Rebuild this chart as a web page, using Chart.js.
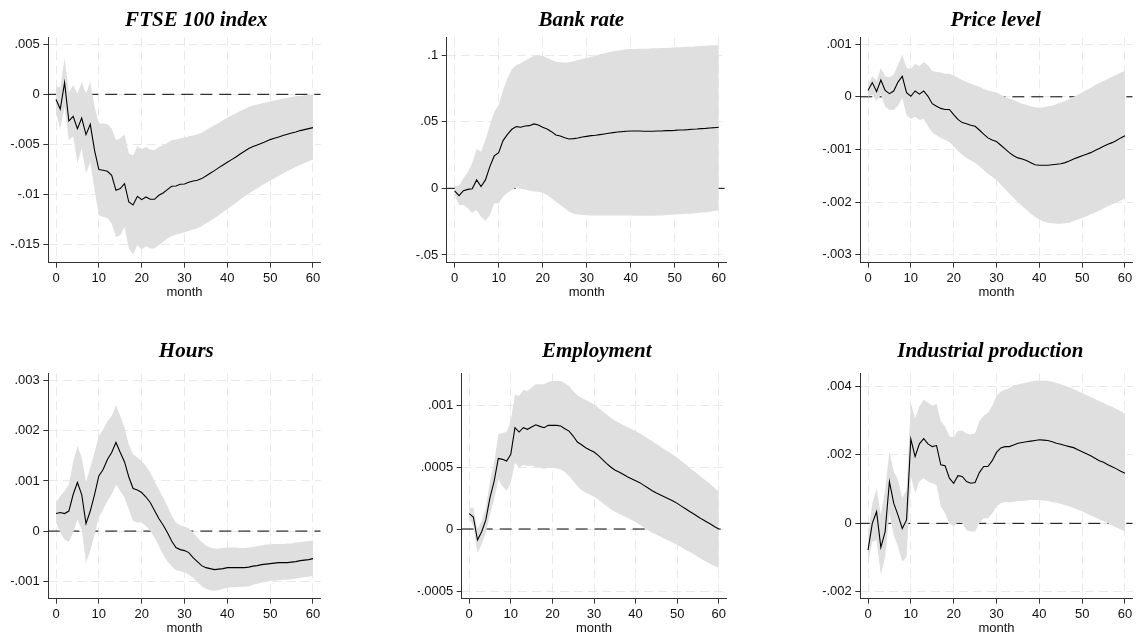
<!DOCTYPE html>
<html>
<head>
<meta charset="utf-8">
<script src="https://cdn.jsdelivr.net/npm/chart.js@4.4.1/dist/chart.umd.min.js"></script>
<style>
  html, body { margin: 0; padding: 0; background: #ffffff; }
  body { width: 1137px; height: 637px; position: relative; overflow: hidden; }
  canvas { position: absolute; }
</style>
</head>
<body>
<canvas id="ftse"></canvas>
<canvas id="bank"></canvas>
<canvas id="price"></canvas>
<canvas id="hours"></canvas>
<canvas id="employment"></canvas>
<canvas id="production"></canvas>
<script>
// Horizon (months after the shock)
const months = [0,1,2,3,4,5,6,7,8,9,10,11,12,13,14,15,16,17,18,19,20,21,22,23,24,25,26,27,28,29,30,
  31,32,33,34,35,36,37,38,39,40,41,42,43,44,45,46,47,48,49,50,51,52,53,54,55,56,57,58,59,60];
const xTickValues = [0,10,20,30,40,50,60];

// FTSE 100 index: response and confidence band
const ftseIrf = [-0.00053,-0.00147,0.00117,-0.00267,-0.0022,-0.00343,-0.00237,-0.00403,-0.003,-0.0056,
  -0.00753,-0.0076,-0.0077,-0.0081,-0.0096,-0.00943,-0.00893,-0.01077,-0.01107,-0.0102,
  -0.01053,-0.01027,-0.0105,-0.0105,-0.0101,-0.00987,-0.00953,-0.0092,-0.00917,-0.009,
  -0.00897,-0.0088,-0.00867,-0.0086,-0.00843,-0.00817,-0.0079,-0.00763,-0.00733,-0.00707,
  -0.0068,-0.00653,-0.00627,-0.00597,-0.0057,-0.00543,-0.00523,-0.00507,-0.0049,-0.00473,
  -0.00453,-0.0044,-0.00427,-0.00413,-0.004,-0.00387,-0.00377,-0.00363,-0.00353,-0.00343,-0.00333];
const ftseUpper = [0.0008,0.00067,0.00357,0.00023,0.0009,0.00007,0.00123,0.00007,0.00123,-0.00127,
  -0.00293,-0.00293,-0.003,-0.00343,-0.0046,-0.00443,-0.00403,-0.00593,-0.0061,-0.0052,
  -0.00547,-0.00527,-0.00553,-0.0056,-0.00527,-0.0051,-0.00487,-0.0046,-0.00453,-0.00443,
  -0.00433,-0.0042,-0.00413,-0.00403,-0.00387,-0.0036,-0.00333,-0.0031,-0.00287,-0.0026,
  -0.00233,-0.00213,-0.0019,-0.00167,-0.00147,-0.00127,-0.00113,-0.00103,-0.00093,-0.00083,
  -0.00073,-0.00063,-0.00053,-0.00043,-0.00037,-0.00027,-0.0002,-0.00017,-0.0001,-0.00007,-0.00003];
const ftseLower = [-0.00193,-0.00343,-0.0013,-0.0046,-0.0042,-0.00687,-0.00543,-0.00793,-0.00677,-0.0096,
  -0.0121,-0.01227,-0.01237,-0.01293,-0.01427,-0.0141,-0.01327,-0.01543,-0.016,-0.0151,
  -0.01553,-0.0152,-0.01543,-0.01543,-0.0151,-0.01477,-0.01443,-0.0142,-0.01403,-0.01393,
  -0.0138,-0.01367,-0.01353,-0.0134,-0.0132,-0.01293,-0.01267,-0.0124,-0.0121,-0.01177,
  -0.01147,-0.01117,-0.01087,-0.01053,-0.01023,-0.00993,-0.00967,-0.0094,-0.00913,-0.00887,
  -0.00863,-0.0084,-0.00817,-0.00793,-0.0077,-0.00747,-0.00727,-0.00707,-0.00687,-0.0067,-0.00653];
const ftseTicks = [-0.015,-0.01,-0.005,0,0.005];
const ftseTickLabels = ["-.015","-.01","-.005","0",".005"];

// Bank rate
const bankIrf = [-0.002,-0.0055,-0.0018,-0.0008,-0.0003,0.0063,0.0013,0.0063,0.0163,0.0243,
  0.0268,0.0358,0.0405,0.0443,0.0463,0.0458,0.0468,0.047,0.0483,0.0475,
  0.0458,0.0445,0.0425,0.04,0.0393,0.038,0.037,0.0373,0.0378,0.0385,
  0.039,0.0395,0.0398,0.0403,0.0408,0.0413,0.0418,0.0423,0.0425,0.0428,
  0.043,0.043,0.043,0.0428,0.0428,0.0428,0.043,0.043,0.0433,0.0433,
  0.0435,0.0438,0.0438,0.044,0.0443,0.0445,0.0448,0.045,0.0453,0.0455,0.0458];
const bankUpper = [0.002,0.00175,0.0075,0.0125,0.01875,0.02975,0.0275,0.03625,0.0475,0.0575,
  0.0625,0.07375,0.0825,0.08925,0.0925,0.09375,0.09575,0.0975,0.09925,0.1,
  0.09925,0.098,0.09625,0.095,0.0945,0.09425,0.0945,0.09525,0.09625,0.097,
  0.09775,0.09875,0.0995,0.1005,0.10125,0.102,0.10275,0.10325,0.10375,0.10425,
  0.1045,0.1045,0.10475,0.10475,0.10475,0.105,0.105,0.10525,0.10525,0.1055,
  0.10575,0.10575,0.106,0.10625,0.10625,0.1065,0.10675,0.107,0.10725,0.10725,0.1075];
const bankLower = [-0.005,-0.0125,-0.0125,-0.015,-0.0183,-0.0163,-0.0213,-0.0243,-0.02,-0.0113,
  -0.0113,-0.0063,-0.0033,-0.0013,0.0008,0,-0.0008,-0.0018,-0.0023,-0.0025,
  -0.0033,-0.005,-0.0075,-0.01,-0.0125,-0.015,-0.0175,-0.019,-0.0197,-0.02,
  -0.0202,-0.0203,-0.0203,-0.0203,-0.0203,-0.0203,-0.0203,-0.0203,-0.0204,-0.0204,
  -0.0204,-0.0205,-0.0205,-0.0205,-0.0205,-0.0205,-0.0204,-0.0203,-0.0201,-0.0199,
  -0.0197,-0.0195,-0.0193,-0.0191,-0.0189,-0.0186,-0.0182,-0.0179,-0.0175,-0.017,-0.0165];
const bankTicks = [-0.05,0,0.05,0.1];
const bankTickLabels = ["-.05","0",".05",".1"];

// Price level
const priceIrf = [0.00012,0.00027,0.0001,0.00032,0.00012,0.00006,0.00011,0.00028,0.00039,0.00008,
  0.00001,0.00011,0.00005,0.00011,0.00001,-0.00013,-0.00018,-0.00022,-0.00024,-0.00024,
  -0.00034,-0.00043,-0.00049,-0.00051,-0.00054,-0.00056,-0.00063,-0.00071,-0.00078,-0.00082,
  -0.00085,-0.00092,-0.00099,-0.00106,-0.00112,-0.00116,-0.00118,-0.00121,-0.00125,-0.00129,
  -0.0013,-0.0013,-0.0013,-0.00129,-0.00128,-0.00127,-0.00125,-0.00122,-0.00118,-0.00115,
  -0.00112,-0.00109,-0.00106,-0.00102,-0.00098,-0.00094,-0.0009,-0.00087,-0.00083,-0.00078,-0.00074];
const priceUpper = [0.00023,0.00039,0.0003,0.00055,0.00039,0.00037,0.00042,0.00061,0.0008,0.00055,
  0.00053,0.00063,0.00058,0.00066,0.0006,0.00049,0.00047,0.00046,0.00044,0.00044,
  0.00041,0.00036,0.00032,0.00028,0.00025,0.00022,0.00019,0.00015,0.00012,0.0001,
  0.00008,0.00004,0,-0.00003,-0.00006,-0.0001,-0.00013,-0.00015,-0.00018,-0.0002,
  -0.00021,-0.0002,-0.00018,-0.00017,-0.00014,-0.00011,-0.00008,-0.00004,0,0.00004,
  0.00008,0.00013,0.00017,0.00022,0.00026,0.0003,0.00034,0.00038,0.00042,0.00046,0.00049];
const priceLower = [0,0.00004,-0.00008,0.00004,-0.00019,-0.00025,-0.00025,-0.00017,-0.00002,-0.00035,
  -0.00042,-0.00038,-0.00044,-0.00042,-0.00056,-0.00068,-0.00073,-0.00078,-0.00082,-0.00086,
  -0.00094,-0.00103,-0.0011,-0.00116,-0.00121,-0.00125,-0.00132,-0.00139,-0.00146,-0.00152,
  -0.00158,-0.00167,-0.00175,-0.00184,-0.00192,-0.002,-0.00208,-0.00215,-0.00222,-0.00228,
  -0.00233,-0.00237,-0.00239,-0.0024,-0.00241,-0.00241,-0.0024,-0.00239,-0.00236,-0.00233,
  -0.0023,-0.00227,-0.00223,-0.0022,-0.00216,-0.00212,-0.00208,-0.00204,-0.00201,-0.00197,-0.00193];
const priceTicks = [-0.003,-0.002,-0.001,0,0.001];
const priceTickLabels = ["-.003","-.002","-.001","0",".001"];

// Hours
const hoursIrf = [0.00035,0.00037,0.00035,0.0004,0.00073,0.00097,0.00073,0.00015,0.0004,0.00073,
  0.0011,0.00123,0.00143,0.00157,0.00177,0.00157,0.00138,0.00108,0.00085,0.00082,
  0.00077,0.00068,0.00057,0.00041,0.00025,0.00012,-0.00003,-0.0002,-0.00033,-0.00037,
  -0.00039,-0.00043,-0.00053,-0.00061,-0.00069,-0.00073,-0.00075,-0.00077,-0.00076,-0.00075,
  -0.00073,-0.00073,-0.00073,-0.00073,-0.00073,-0.00072,-0.0007,-0.00069,-0.00067,-0.00066,
  -0.00065,-0.00064,-0.00063,-0.00063,-0.00063,-0.00062,-0.00061,-0.00059,-0.00058,-0.00057,-0.00055];
const hoursUpper = [0.00057,0.0007,0.0008,0.00093,0.00137,0.0017,0.00147,0.00097,0.00127,0.00157,
  0.0019,0.00203,0.0022,0.0023,0.00251,0.0023,0.00207,0.00173,0.00153,0.00147,
  0.0014,0.0013,0.00117,0.001,0.00083,0.00067,0.0005,0.00031,0.00017,0.00011,
  0.00009,0.00005,-0.00003,-0.00013,-0.00022,-0.00029,-0.00033,-0.00035,-0.00035,-0.00034,
  -0.00033,-0.00033,-0.00033,-0.00034,-0.00034,-0.00033,-0.00032,-0.0003,-0.00029,-0.00027,
  -0.00027,-0.00026,-0.00026,-0.00026,-0.00025,-0.00025,-0.00023,-0.00022,-0.00021,-0.0002,-0.00019];
const hoursLower = [0.00017,-0.00003,-0.00017,-0.00022,-0.00003,0.00023,0.00003,-0.00063,-0.0004,-0.00007,
  0.00027,0.00043,0.0006,0.00073,0.00093,0.0008,0.00067,0.00043,0.0002,0.00017,
  0.00017,0.0001,0,-0.00013,-0.0003,-0.00047,-0.0006,-0.0007,-0.00078,-0.0008,
  -0.00082,-0.00087,-0.00093,-0.00102,-0.0011,-0.00115,-0.00118,-0.00119,-0.00118,-0.00115,
  -0.00113,-0.00112,-0.00112,-0.00111,-0.00111,-0.0011,-0.00107,-0.00105,-0.00103,-0.00101,
  -0.00099,-0.00099,-0.00098,-0.00097,-0.00097,-0.00096,-0.00095,-0.00093,-0.00092,-0.00091,-0.00089];
const hoursTicks = [-0.001,0,0.001,0.002,0.003];
const hoursTickLabels = ["-.001","0",".001",".002",".003"];

// Employment
const employmentIrf = [0.000124,0.000097,-0.000089,-0.000022,0.000073,0.000253,0.000387,0.00057,0.000562,0.000548,
  0.000602,0.000817,0.000782,0.000817,0.000804,0.000823,0.000841,0.000828,0.000817,0.000836,
  0.000836,0.000836,0.000831,0.000809,0.00079,0.00075,0.000702,0.00068,0.000656,0.000637,
  0.000621,0.000594,0.000562,0.00053,0.0005,0.000476,0.00046,0.000441,0.000422,0.000406,
  0.00039,0.000374,0.000352,0.000331,0.000309,0.00029,0.000274,0.000258,0.000242,0.000226,
  0.000207,0.000185,0.000164,0.000142,0.000121,0.000099,0.000078,0.000059,0.00004,0.000019,0];
const employmentUpper = [0.000172,0.000172,0,0.000065,0.000172,0.000387,0.000535,0.000763,0.000777,0.000782,
  0.000871,0.001086,0.001073,0.001121,0.001113,0.00114,0.001167,0.001167,0.001167,0.001185,
  0.001194,0.001196,0.001194,0.001175,0.001153,0.001113,0.001078,0.001059,0.00104,0.001024,
  0.001005,0.000978,0.000952,0.000925,0.000898,0.000876,0.000858,0.000839,0.000823,0.000804,
  0.000788,0.000772,0.00075,0.000728,0.000707,0.000685,0.000664,0.000642,0.000621,0.000599,
  0.000575,0.000548,0.000522,0.000495,0.000468,0.000441,0.000414,0.000387,0.00036,0.000331,0.000298];
const employmentLower = [0.000091,0.000024,-0.000191,-0.000124,-0.00003,0.000118,0.000239,0.000401,0.000347,0.000306,
  0.000374,0.000535,0.000495,0.000519,0.000508,0.000513,0.0005,0.000495,0.000487,0.000495,
  0.000495,0.000489,0.000481,0.00046,0.000427,0.000387,0.000347,0.000315,0.000293,0.000277,
  0.000261,0.000239,0.000212,0.000185,0.000159,0.00014,0.000124,0.000108,0.000091,0.000075,
  0.000056,0.000035,0.000013,-0.000008,-0.00003,-0.000046,-0.000062,-0.000078,-0.000094,-0.00011,
  -0.000129,-0.000148,-0.000167,-0.000185,-0.000204,-0.000226,-0.000245,-0.000263,-0.000282,-0.000298,-0.000315];
const employmentTicks = [-0.0005,0,0.0005,0.001];
const employmentTickLabels = ["-.0005","0",".0005",".001"];

// Industrial production
const productionIrf = [-0.00078,0,0.00034,-0.0007,-0.00024,0.00122,0.00059,0.00024,-0.00015,0.0001,
  0.00246,0.00195,0.00232,0.00247,0.00232,0.00224,0.00227,0.00171,0.00168,0.00132,
  0.00117,0.00139,0.00137,0.00122,0.00117,0.00119,0.00148,0.00166,0.00166,0.00183,
  0.00207,0.0022,0.00224,0.00224,0.00229,0.00234,0.00236,0.00238,0.0024,0.00242,
  0.00244,0.00243,0.00242,0.00238,0.00234,0.00231,0.00227,0.00224,0.00221,0.00215,
  0.00209,0.00203,0.00197,0.0019,0.00183,0.00178,0.00171,0.00165,0.00159,0.00152,0.00146];
const productionUpper = [-0.00039,0.00059,0.00102,0.00024,0.00098,0.0021,0.00151,0.00127,0.00073,0.00098,
  0.00351,0.00307,0.00342,0.00361,0.00353,0.00343,0.00349,0.00298,0.00283,0.00254,
  0.00251,0.0027,0.00271,0.00262,0.00259,0.00263,0.00298,0.00314,0.00322,0.00343,
  0.00371,0.00385,0.0039,0.00395,0.00403,0.00405,0.00408,0.00411,0.00414,0.00416,
  0.00416,0.00417,0.00416,0.00413,0.0041,0.00406,0.00402,0.00397,0.00392,0.00386,
  0.0038,0.00375,0.00369,0.00363,0.00357,0.00351,0.00345,0.0034,0.00334,0.00327,0.0032];
const productionLower = [-0.00112,-0.00054,-0.00049,-0.00151,-0.00098,0.00029,-0.00034,-0.00068,-0.00112,-0.00098,
  0.00137,0.00088,0.00122,0.00132,0.00122,0.00117,0.00112,0.00049,0.00029,0,
  -0.0001,0.00005,0,-0.0002,-0.00024,-0.00024,0,0.00015,0.00015,0.00029,
  0.00049,0.00059,0.00062,0.00061,0.00063,0.00065,0.00066,0.00067,0.00068,0.00068,
  0.00068,0.00067,0.00065,0.00062,0.0006,0.00057,0.00053,0.00049,0.00045,0.0004,
  0.00035,0.00029,0.00023,0.00018,0.00012,0.00006,0,-0.00006,-0.00012,-0.00018,-0.00024];
const productionTicks = [-0.002,0,0.002,0.004];
const productionTickLabels = ["-.002","0",".002",".004"];

// ---- layout and styling ----
const Y_AXIS_W = 44;
const X_AXIS_H = 38;
const X_MIN = -1.8, X_MAX = 61.8;
const TICK_FONT = { family: "'Liberation Sans', Arial, sans-serif", size: 13 };
const TITLE_FONT = "italic bold 21px 'Liberation Serif', 'Times New Roman', serif";
const AXIS_COLOR = '#333333';
const GRID_COLOR = '#e9e9e9';
const BAND_COLOR = '#dfdfdf';

const panels = [
  { id: 'ftse', title: 'FTSE 100 index', irf: ftseIrf, hi: ftseUpper, lo: ftseLower,
    ticks: ftseTicks, labels: ftseTickLabels, yMin: -0.01684, yMax: 0.0057,
    box: { x: 0, y: 0, w: 380, h: 310 }, plot: { l: 48.3, r: 320.7, t: 37.3, b: 262.7 }, titleAt: { x: 196.3, y: 26 } },
  { id: 'bank', title: 'Bank rate', irf: bankIrf, hi: bankUpper, lo: bankLower,
    ticks: bankTicks, labels: bankTickLabels, yMin: -0.0558, yMax: 0.1133,
    box: { x: 380, y: 0, w: 377, h: 310 }, plot: { l: 446.7, r: 726.7, t: 37.3, b: 262.7 }, titleAt: { x: 581.3, y: 26 } },
  { id: 'price', title: 'Price level', irf: priceIrf, hi: priceUpper, lo: priceLower,
    ticks: priceTicks, labels: priceTickLabels, yMin: -0.00315, yMax: 0.00113,
    box: { x: 757, y: 0, w: 380, h: 310 }, plot: { l: 860.3, r: 1132.7, t: 37.3, b: 262.7 }, titleAt: { x: 995.7, y: 26 } },
  { id: 'hours', title: 'Hours', irf: hoursIrf, hi: hoursUpper, lo: hoursLower,
    ticks: hoursTicks, labels: hoursTickLabels, yMin: -0.00135, yMax: 0.00315,
    box: { x: 0, y: 310, w: 380, h: 327 }, plot: { l: 48.3, r: 320.7, t: 373.3, b: 598.7 }, titleAt: { x: 186.3, y: 357 } },
  { id: 'employment', title: 'Employment', irf: employmentIrf, hi: employmentUpper, lo: employmentLower,
    ticks: employmentTicks, labels: employmentTickLabels, yMin: -0.000562, yMax: 0.001256,
    box: { x: 380, y: 310, w: 377, h: 327 }, plot: { l: 461.7, r: 726.3, t: 373.3, b: 598.7 }, titleAt: { x: 596.8, y: 357 } },
  { id: 'production', title: 'Industrial production', irf: productionIrf, hi: productionUpper, lo: productionLower,
    ticks: productionTicks, labels: productionTickLabels, yMin: -0.0022, yMax: 0.00438,
    box: { x: 757, y: 310, w: 380, h: 327 }, plot: { l: 860.3, r: 1132.7, t: 373.3, b: 598.7 }, titleAt: { x: 990.3, y: 357 } }
];

// Panel heading drawn at a fixed spot above each plot
const panelTitle = {
  id: 'panelTitle',
  afterDraw(chart, args, opts) {
    const ctx = chart.ctx;
    ctx.save();
    ctx.font = opts.font;
    ctx.fillStyle = '#000';
    ctx.textAlign = 'center';
    ctx.textBaseline = 'alphabetic';
    ctx.fillText(opts.text, opts.x, opts.y);
    ctx.restore();
  }
};

function toPoints(values) {
  return months.map((m, i) => ({ x: m, y: values[i] }));
}

function gridFor() {
  return {
    color: GRID_COLOR, lineWidth: 1,
    drawTicks: true, tickLength: 5, tickColor: AXIS_COLOR, tickWidth: 1, tickBorderDash: []
  };
}

function drawPanel(p) {
  const canvas = document.getElementById(p.id);
  canvas.width = p.box.w;
  canvas.height = p.box.h;
  canvas.style.left = p.box.x + 'px';
  canvas.style.top = p.box.y + 'px';
  canvas.style.width = p.box.w + 'px';
  canvas.style.height = p.box.h + 'px';

  const padding = {
    left: p.plot.l - p.box.x - Y_AXIS_W,
    right: p.box.x + p.box.w - p.plot.r,
    top: p.plot.t - p.box.y,
    bottom: p.box.y + p.box.h - p.plot.b - X_AXIS_H
  };

  new Chart(canvas, {
    type: 'line',
    data: {
      datasets: [
        { label: 'response', data: toPoints(p.irf), borderColor: '#000', borderWidth: 1.1,
          pointRadius: 0, fill: false, tension: 0, order: 0 },
        { label: 'lower', data: toPoints(p.lo), borderColor: 'rgba(0,0,0,0)', borderWidth: 0,
          pointRadius: 0, fill: false, tension: 0, order: 1 },
        { label: 'upper', data: toPoints(p.hi), borderColor: 'rgba(0,0,0,0)', borderWidth: 0,
          pointRadius: 0, fill: 1, backgroundColor: BAND_COLOR, tension: 0, order: 1 },
        { label: 'zero', data: [{ x: X_MIN, y: 0 }, { x: X_MAX, y: 0 }], borderColor: '#000',
          borderWidth: 1, borderDash: [12, 7], pointRadius: 0, fill: false, order: 2 }
      ]
    },
    options: {
      responsive: false,
      animation: false,
      devicePixelRatio: 1,
      layout: { padding },
      plugins: {
        legend: { display: false },
        tooltip: { enabled: false },
        panelTitle: { text: p.title, font: TITLE_FONT, x: p.titleAt.x - p.box.x, y: p.titleAt.y - p.box.y }
      },
      scales: {
        x: {
          type: 'linear', min: X_MIN, max: X_MAX,
          afterBuildTicks: s => { s.ticks = xTickValues.map(v => ({ value: v })); },
          afterFit: s => { s.height = X_AXIS_H; },
          ticks: { font: TICK_FONT, color: '#111', padding: 3, maxRotation: 0, autoSkip: false,
                   callback: v => String(v) },
          grid: gridFor(),
          border: { display: true, color: AXIS_COLOR, width: 1, dash: [9, 5] },
          title: { display: true, text: 'month', font: TICK_FONT, color: '#111', padding: { top: 0, bottom: 0.5 } }
        },
        y: {
          type: 'linear', min: p.yMin, max: p.yMax,
          afterBuildTicks: s => { s.ticks = p.ticks.map(v => ({ value: v })); },
          afterFit: s => { s.width = Y_AXIS_W; },
          ticks: { font: TICK_FONT, color: '#111', padding: 3.5, autoSkip: false,
                   callback: v => p.labels[p.ticks.indexOf(v)] },
          grid: gridFor(),
          border: { display: true, color: AXIS_COLOR, width: 1, dash: [9, 5] }
        }
      }
    },
    plugins: [panelTitle]
  });
}

panels.forEach(drawPanel);
</script>
</body>
</html>
